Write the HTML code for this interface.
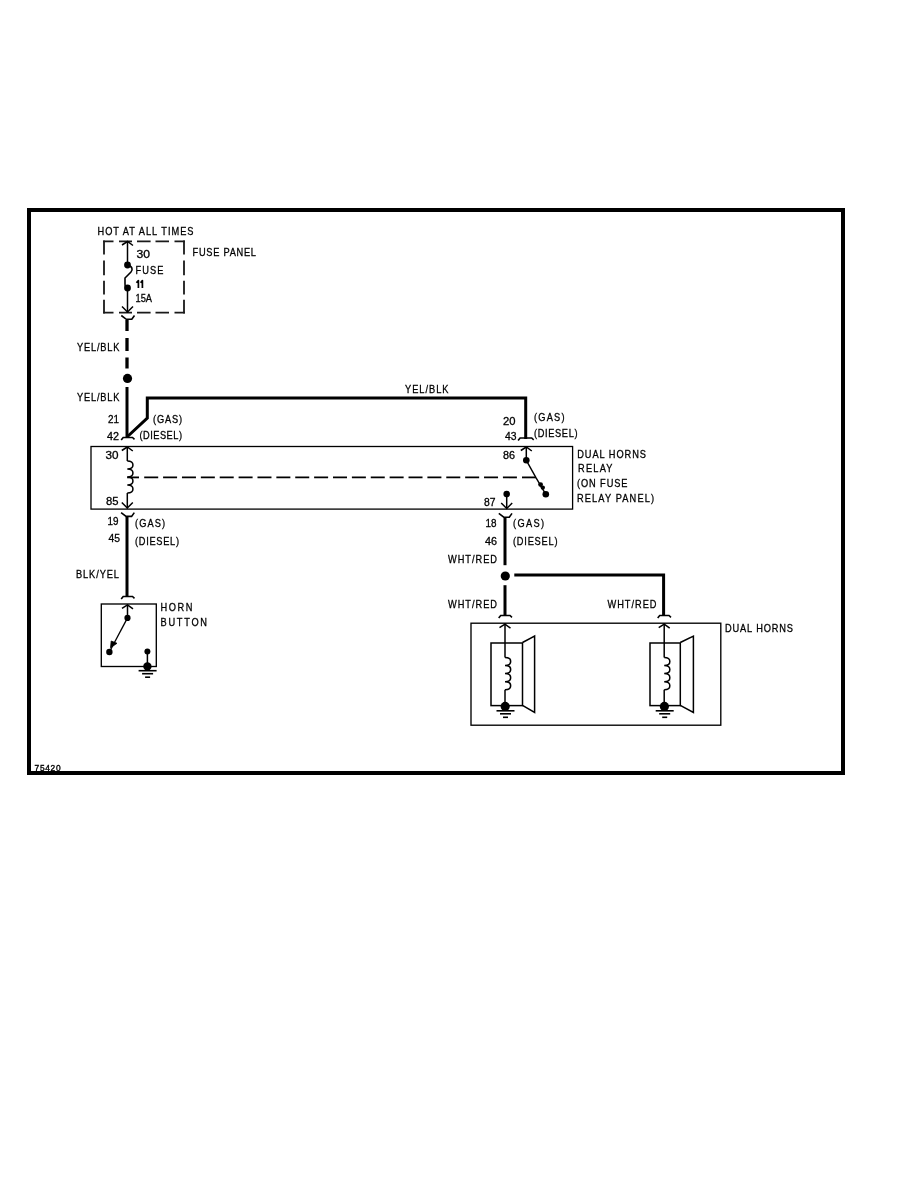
<!DOCTYPE html>
<html><head><meta charset="utf-8"><style>
html,body{margin:0;padding:0;background:#fff;width:918px;height:1188px;overflow:hidden}
svg{display:block;will-change:transform}
</style></head><body>
<svg width="918" height="1188" viewBox="0 0 918 1188">
<g stroke="#000" fill="none" stroke-linecap="butt" stroke-linejoin="miter">
<rect x="29" y="210" width="814" height="563" stroke-width="4" fill="none"/>
<path d="M103.2,241.3H113.5M119,241.3H132M137,241.3H150.6M155.5,241.3H169M174.5,241.3H184.9" stroke-width="1.8" stroke="#1a1a1a"/>
<path d="M103.2,312.6H113.5M119,312.6H132M137,312.6H150.6M155.5,312.6H169M174.5,312.6H184.9" stroke-width="1.8" stroke="#1a1a1a"/>
<path d="M104,240.4V254.6M104,260.6V275.3M104,280.8V294.4M104,299.8V313.4" stroke-width="1.8" stroke="#1a1a1a"/>
<path d="M184,240.4V254.6M184,260.6V275.3M184,280.8V294.4M184,299.8V313.4" stroke-width="1.8" stroke="#1a1a1a"/>
<line x1="127.5" y1="241.5" x2="127.5" y2="265" stroke-width="1.5"/>
<polyline points="122.0,245.0 127.5,241.5 133.0,245.5" stroke-width="1.5" fill="none"/>
<circle cx="127.5" cy="265" r="3.4" fill="#000" stroke="none"/>
<path d="M127.5,265 C132.5,266 133,270 131,272 L125,278 L125,284 Q125,288 127.5,288" stroke-width="1.6" fill="none"/>
<circle cx="127.5" cy="288" r="3.4" fill="#000" stroke="none"/>
<line x1="127.5" y1="288" x2="127.5" y2="313" stroke-width="1.5"/>
<polyline points="122.0,306.5 127.5,312 133.0,306.5" stroke-width="1.5" fill="none"/>
<path d="M121.3,315.5 L126.3,319.3 L131.8,319.3 L134.5,315.5" stroke-width="1.6" fill="none"/>
<line x1="127" y1="320" x2="127" y2="331" stroke-width="3.3"/>
<line x1="127" y1="338" x2="127" y2="351" stroke-width="3.3"/>
<line x1="127" y1="357.5" x2="127" y2="368.5" stroke-width="3.3"/>
<circle cx="127.5" cy="378.4" r="4.6" fill="#000" stroke="none"/>
<line x1="127" y1="387" x2="127" y2="438" stroke-width="3"/>
<polyline points="127,437 147.3,418 147.3,398 525.7,398 525.7,439" stroke-width="3" fill="none"/>
<path d="M121.2,440.1 L123.2,437.5 L132.5,437.5 L134.5,439.3" stroke-width="1.6" fill="none"/>
<path d="M518.1,440.6 L520.1,438 L531.7,438 L533.7,439.8" stroke-width="1.6" fill="none"/>
<rect x="91" y="446.5" width="481.6" height="62.60000000000002" stroke-width="1.3" fill="none"/>
<line x1="127.3" y1="447" x2="127.3" y2="461" stroke-width="1.5"/>
<polyline points="121.8,450.5 127.3,447 132.8,451" stroke-width="1.5" fill="none"/>
<path d="M127.3,461 C134.84,461.0 134.84,469.0 127.3,469.0 C134.84,469.0 134.84,477.0 127.3,477.0 C134.84,477.0 134.84,485.0 127.3,485.0 C134.84,485.0 134.84,493.0 127.3,493.0" stroke-width="1.5" fill="none"/>
<line x1="127.3" y1="493" x2="127.3" y2="508.5" stroke-width="1.5"/>
<polyline points="121.8,502.5 127.3,508 132.8,502.5" stroke-width="1.5" fill="none"/>
<line x1="127.2" y1="477.4" x2="139" y2="477.4" stroke-width="1.8"/>
<line x1="144.2" y1="477.4" x2="520" y2="477.4" stroke-width="1.8" stroke-dasharray="14 4.88"/>
<line x1="522" y1="477.4" x2="536" y2="477.4" stroke-width="1.8"/>
<line x1="526.3" y1="447" x2="526.3" y2="460" stroke-width="1.5"/>
<polyline points="520.8,450.5 526.3,447 531.8,451" stroke-width="1.5" fill="none"/>
<circle cx="526.3" cy="460.2" r="3.3" fill="#000" stroke="none"/>
<polyline points="526.3,460.3 535.8,477.4 545.8,494.3" stroke-width="1.4" fill="none"/>
<circle cx="540.6" cy="484.6" r="2.4" fill="#000" stroke="none"/>
<circle cx="542.8" cy="487.6" r="2.2" fill="#000" stroke="none"/>
<circle cx="545.8" cy="494.3" r="3.3" fill="#000" stroke="none"/>
<circle cx="506.7" cy="494.1" r="3.3" fill="#000" stroke="none"/>
<line x1="506.7" y1="494" x2="506.7" y2="508.5" stroke-width="1.5"/>
<polyline points="501.2,503.0 506.7,508.5 512.2,503.0" stroke-width="1.5" fill="none"/>
<path d="M121.1,512.6 L126.1,516.4 L131.6,516.4 L134.3,512.6" stroke-width="1.6" fill="none"/>
<line x1="127" y1="517" x2="127" y2="597" stroke-width="3"/>
<path d="M121.2,599.1 L123.2,596.5 L132.5,596.5 L134.5,598.3" stroke-width="1.6" fill="none"/>
<rect x="101.3" y="604" width="55.000000000000014" height="62.5" stroke-width="1.35" fill="none"/>
<polyline points="122.0,608.3 127.5,604.8 133.0,608.8" stroke-width="1.5" fill="none"/>
<line x1="127.5" y1="604.5" x2="127.5" y2="618" stroke-width="1.5"/>
<circle cx="127.5" cy="617.9" r="3.1" fill="#000" stroke="none"/>
<line x1="127.5" y1="617.9" x2="109.4" y2="652" stroke-width="1.3"/>
<polygon points="111.2,641 117,643.3 110.5,647.8" fill="#000" stroke="#000" stroke-width="0.8"/>
<circle cx="109.4" cy="652" r="3.2" fill="#000" stroke="none"/>
<circle cx="147.4" cy="651.6" r="3" fill="#000" stroke="none"/>
<line x1="147.4" y1="651.6" x2="147.4" y2="666" stroke-width="1.5"/>
<circle cx="147.4" cy="666.4" r="4.2" fill="#000" stroke="none"/>
<line x1="138.6" y1="670.7" x2="156.6" y2="670.7" stroke-width="1.6"/>
<line x1="142.1" y1="673.7" x2="153.1" y2="673.7" stroke-width="1.6"/>
<line x1="145.1" y1="677.2" x2="150.1" y2="677.2" stroke-width="1.6"/>
<path d="M498.8,513.4 L503.8,517.1999999999999 L509.3,517.1999999999999 L512,513.4" stroke-width="1.6" fill="none"/>
<line x1="505" y1="518" x2="505" y2="565.2" stroke-width="3"/>
<circle cx="505.3" cy="576" r="4.6" fill="#000" stroke="none"/>
<line x1="505" y1="585.2" x2="505" y2="616" stroke-width="3"/>
<polyline points="514.3,575 663.6,575 663.6,616" stroke-width="3" fill="none"/>
<path d="M498.7,618.1 L500.7,615.5 L510,615.5 L512,617.3" stroke-width="1.6" fill="none"/>
<path d="M657.7,618.1 L659.7,615.5 L669,615.5 L671,617.3" stroke-width="1.6" fill="none"/>
<rect x="471" y="623.2" width="249.79999999999995" height="102.0" stroke-width="1.35" fill="none"/>
<polyline points="499.5,627.7 505,624.2 510.5,628.2" stroke-width="1.5" fill="none"/>
<line x1="505" y1="623.5" x2="505" y2="657.4" stroke-width="1.5"/>
<rect x="491" y="643" width="31.5" height="62.60000000000002" stroke-width="1.5" fill="none"/>
<polyline points="522.5,642.5 534.6,636.1 534.6,712.4 522.5,705.3" stroke-width="1.5" fill="none"/>
<path d="M505,657.4 C512.54,657.4 512.54,665.5 505,665.5 C512.54,665.5 512.54,673.6 505,673.6 C512.54,673.5999999999999 512.54,681.6999999999999 505,681.6999999999999 C512.54,681.6999999999999 512.54,689.8 505,689.8" stroke-width="1.5" fill="none"/>
<line x1="505" y1="689.8" x2="505" y2="706" stroke-width="1.5"/>
<circle cx="505.2" cy="706.4" r="4.6" fill="#000" stroke="none"/>
<line x1="496.5" y1="710.8" x2="514.5" y2="710.8" stroke-width="1.6"/>
<line x1="500.0" y1="713.8" x2="511.0" y2="713.8" stroke-width="1.6"/>
<line x1="503.0" y1="717.3" x2="508.0" y2="717.3" stroke-width="1.6"/>
<polyline points="658.7,627.7 664.2,624.2 669.7,628.2" stroke-width="1.5" fill="none"/>
<line x1="664.2" y1="623.5" x2="664.2" y2="657.4" stroke-width="1.5"/>
<rect x="650" y="643" width="30.299999999999955" height="62.60000000000002" stroke-width="1.5" fill="none"/>
<polyline points="680.3,642.5 693.4,636.1 693.4,712.4 680.3,705.3" stroke-width="1.5" fill="none"/>
<path d="M664.2,657.4 C671.74,657.4 671.74,665.5 664.2,665.5 C671.74,665.5 671.74,673.6 664.2,673.6 C671.74,673.5999999999999 671.74,681.6999999999999 664.2,681.6999999999999 C671.74,681.6999999999999 671.74,689.8 664.2,689.8" stroke-width="1.5" fill="none"/>
<line x1="664.2" y1="689.8" x2="664.2" y2="706" stroke-width="1.5"/>
<circle cx="664.4000000000001" cy="706.4" r="4.6" fill="#000" stroke="none"/>
<line x1="655.7" y1="710.8" x2="673.7" y2="710.8" stroke-width="1.6"/>
<line x1="659.2" y1="713.8" x2="670.2" y2="713.8" stroke-width="1.6"/>
<line x1="662.2" y1="717.3" x2="667.2" y2="717.3" stroke-width="1.6"/>
<path d="M136.4,282.8 L138.4,280.6 V287.9 M140.6,282.8 L142.4,280.6 V287.9" stroke-width="1.7" stroke-linejoin="round"/>
</g>
<g font-family="Liberation Sans, sans-serif" font-size="10.5" fill="#000" stroke="#000" stroke-width="0.3">
<text transform="scale(0.88,1)" x="110.80" y="235.00" textLength="109.09" lengthAdjust="spacing">HOT AT ALL TIMES</text>
<text transform="scale(0.88,1)" x="155.11" y="258.00" textLength="15.34" lengthAdjust="spacingAndGlyphs">30</text>
<text transform="scale(0.88,1)" x="153.98" y="274.00" textLength="31.82" lengthAdjust="spacing">FUSE</text>
<text transform="scale(0.88,1)" x="153.98" y="302.50" textLength="18.75" lengthAdjust="spacingAndGlyphs">15A</text>
<text transform="scale(0.88,1)" x="218.75" y="256.00" textLength="72.16" lengthAdjust="spacing">FUSE PANEL</text>
<text transform="scale(0.88,1)" x="87.50" y="351.00" textLength="48.30" lengthAdjust="spacing">YEL/BLK</text>
<text transform="scale(0.88,1)" x="87.50" y="401.50" textLength="48.30" lengthAdjust="spacing">YEL/BLK</text>
<text transform="scale(0.88,1)" x="122.73" y="423.50" textLength="12.50" lengthAdjust="spacingAndGlyphs">21</text>
<text transform="scale(0.88,1)" x="121.59" y="440.00" textLength="13.64" lengthAdjust="spacingAndGlyphs">42</text>
<text transform="scale(0.88,1)" x="173.86" y="423.50" textLength="32.95" lengthAdjust="spacing">(GAS)</text>
<text transform="scale(0.88,1)" x="158.52" y="439.00" textLength="48.30" lengthAdjust="spacing">(DIESEL)</text>
<text transform="scale(0.88,1)" x="460.23" y="393.00" textLength="49.43" lengthAdjust="spacing">YEL/BLK</text>
<text transform="scale(0.88,1)" x="571.59" y="425.00" textLength="14.20" lengthAdjust="spacingAndGlyphs">20</text>
<text transform="scale(0.88,1)" x="573.86" y="440.00" textLength="13.07" lengthAdjust="spacingAndGlyphs">43</text>
<text transform="scale(0.88,1)" x="606.82" y="421.50" textLength="34.66" lengthAdjust="spacing">(GAS)</text>
<text transform="scale(0.88,1)" x="606.82" y="437.50" textLength="49.43" lengthAdjust="spacing">(DIESEL)</text>
<text transform="scale(0.88,1)" x="119.89" y="459.50" textLength="14.77" lengthAdjust="spacingAndGlyphs">30</text>
<text transform="scale(0.88,1)" x="120.45" y="505.50" textLength="14.20" lengthAdjust="spacingAndGlyphs">85</text>
<text transform="scale(0.88,1)" x="571.59" y="459.50" textLength="13.64" lengthAdjust="spacingAndGlyphs">86</text>
<text transform="scale(0.88,1)" x="550.00" y="506.00" textLength="13.07" lengthAdjust="spacingAndGlyphs">87</text>
<text transform="scale(0.88,1)" x="655.97" y="458.50" textLength="78.13" lengthAdjust="spacing">DUAL HORNS</text>
<text transform="scale(0.88,1)" x="656.82" y="472.50" textLength="39.20" lengthAdjust="spacing">RELAY</text>
<text transform="scale(0.88,1)" x="655.68" y="487.00" textLength="57.39" lengthAdjust="spacing">(ON FUSE</text>
<text transform="scale(0.88,1)" x="655.68" y="502.00" textLength="87.50" lengthAdjust="spacing">RELAY PANEL)</text>
<text transform="scale(0.88,1)" x="122.16" y="525.50" textLength="12.50" lengthAdjust="spacingAndGlyphs">19</text>
<text transform="scale(0.88,1)" x="153.41" y="527.00" textLength="34.09" lengthAdjust="spacing">(GAS)</text>
<text transform="scale(0.88,1)" x="123.30" y="542.50" textLength="13.07" lengthAdjust="spacingAndGlyphs">45</text>
<text transform="scale(0.88,1)" x="153.41" y="545.00" textLength="50.00" lengthAdjust="spacing">(DIESEL)</text>
<text transform="scale(0.88,1)" x="86.36" y="578.50" textLength="48.86" lengthAdjust="spacing">BLK/YEL</text>
<text transform="scale(0.88,1)" x="182.39" y="611.50" textLength="36.36" lengthAdjust="spacing">HORN</text>
<text transform="scale(0.88,1)" x="182.39" y="626.00" textLength="52.84" lengthAdjust="spacing">BUTTON</text>
<text transform="scale(0.88,1)" x="551.70" y="527.00" textLength="12.50" lengthAdjust="spacingAndGlyphs">18</text>
<text transform="scale(0.88,1)" x="582.95" y="527.00" textLength="35.23" lengthAdjust="spacing">(GAS)</text>
<text transform="scale(0.88,1)" x="551.14" y="545.50" textLength="13.64" lengthAdjust="spacingAndGlyphs">46</text>
<text transform="scale(0.88,1)" x="582.95" y="545.50" textLength="50.57" lengthAdjust="spacing">(DIESEL)</text>
<text transform="scale(0.88,1)" x="509.09" y="563.50" textLength="55.68" lengthAdjust="spacing">WHT/RED</text>
<text transform="scale(0.88,1)" x="509.09" y="608.00" textLength="55.68" lengthAdjust="spacing">WHT/RED</text>
<text transform="scale(0.88,1)" x="690.34" y="608.50" textLength="55.68" lengthAdjust="spacing">WHT/RED</text>
<text transform="scale(0.88,1)" x="823.86" y="632.00" textLength="77.27" lengthAdjust="spacing">DUAL HORNS</text>
<text x="34.6" y="771.2" font-size="8.4" stroke-width="0.35" textLength="26" lengthAdjust="spacing">75420</text>
</g>
</svg>
</body></html>
